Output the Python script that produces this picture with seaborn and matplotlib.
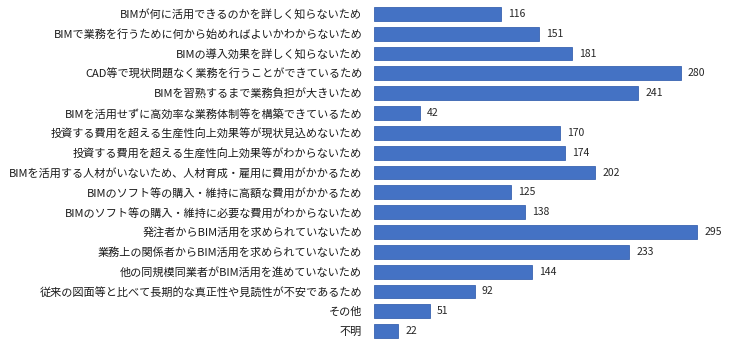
import matplotlib
matplotlib.use("Agg")
import matplotlib.pyplot as plt
import seaborn as sns
import pandas as pd

categories = [
    "BIMが何に活用できるのかを詳しく知らないため",
    "BIMで業務を行うために何から始めればよいかわからないため",
    "BIMの導入効果を詳しく知らないため",
    "CAD等で現状問題なく業務を行うことができているため",
    "BIMを習熟するまで業務負担が大きいため",
    "BIMを活用せずに高効率な業務体制等を構築できているため",
    "投資する費用を超える生産性向上効果等が現状見込めないため",
    "投資する費用を超える生産性向上効果等がわからないため",
    "BIMを活用する人材がいないため、人材育成・雇用に費用がかかるため",
    "BIMのソフト等の購入・維持に高額な費用がかかるため",
    "BIMのソフト等の購入・維持に必要な費用がわからないため",
    "発注者からBIM活用を求められていないため",
    "業務上の関係者からBIM活用を求められていないため",
    "他の同規模同業者がBIM活用を進めていないため",
    "従来の図面等と比べて長期的な真正性や見読性が不安であるため",
    "その他",
    "不明",
]
values = [116, 151, 181, 280, 241, 42, 170, 174, 202, 125, 138, 295, 233, 144, 92, 51, 22]

sns.set_theme(style="white")
plt.rcParams['font.family'] = ['Noto Sans CJK JP', 'DejaVu Sans']

df = pd.DataFrame({"category": categories, "value": values})

fig = plt.figure(figsize=(7.3, 3.55), dpi=100)
ax = fig.add_axes([374 / 730, 14 / 355, 1 - 374 / 730, (341 - 4) / 355])

sns.barplot(data=df, x="value", y="category", orient="h", color="#4472C4",
            saturation=1, width=0.7, edgecolor="#3A64B0", linewidth=0.6, ax=ax)

for i, v in enumerate(values):
    ax.text(v + 6.5, i, str(v), va="center", ha="left", fontsize=7.5, color="#262626")

ax.set_xlim(0, 325)
ax.set_ylim(16.5, -0.5)
ax.set_xlabel("")
ax.set_ylabel("")
ax.set_xticks([])
ax.tick_params(axis="y", length=0, pad=8.5, labelsize=8.0, labelcolor="#1a1a1a")
for s in ax.spines.values():
    s.set_visible(False)

fig.savefig("out.png", dpi=100)
